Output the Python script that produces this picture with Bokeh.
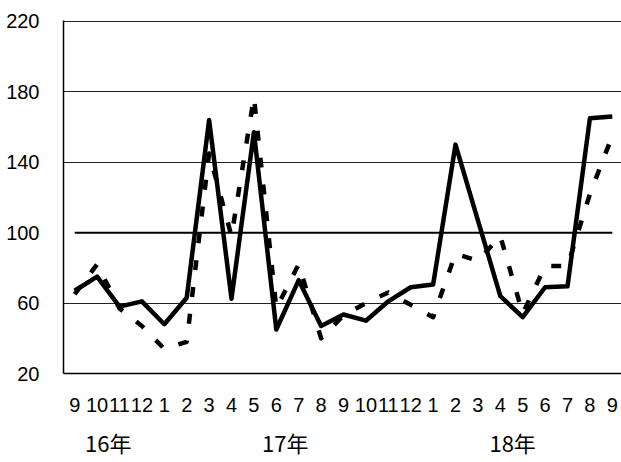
from bokeh.plotting import figure
from bokeh.models import FixedTicker, LinearAxis, Range1d
from bokeh.embed import file_html
from bokeh.resources import INLINE

# month tick labels (Sep 2016 .. Sep 2018)
months = ["9", "10", "11", "12", "1", "2", "3", "4", "5", "6", "7", "8",
          "9", "10", "11", "12", "1", "2", "3", "4", "5", "6", "7", "8", "9"]
# year group labels and their centre positions on the category axis
years = ["16年", "17年", "18年"]
year_pos = [1.5, 9.4, 19.55]

# solid series
solid = [67, 75, 58, 61, 48, 63, 164, 62.5, 157, 45, 73, 47, 53.5, 50, 61,
         69, 70.5, 150, 107, 64, 52, 69, 69.5, 165, 166]
# dashed series
dashed = [65, 82, 57, 47, 34, 38, 145, 98, 177, 57, 82, 40, 53, 60, 66,
          59, 52, 88, 84, 98, 54, 81, 81, 122, 155]
# reference level
base_level = 100

y_ticks = [20, 60, 100, 140, 180, 220]
grid_ticks = [60, 140, 180, 220]

x = list(range(len(months)))

p = figure(width=621, height=462, output_backend="svg", toolbar_location=None,
           x_range=Range1d(-0.5, 24.41), y_range=Range1d(20, 220.5),
           min_border_left=63, min_border_right=0, min_border_top=20,
           min_border_bottom=89)
p.outline_line_color = None
p.background_fill_color = "white"
p.border_fill_color = "white"

FONT = "Liberation Sans"

# x axis
p.xaxis.ticker = FixedTicker(ticks=x)
p.xaxis.major_label_overrides = {i: m for i, m in zip(x, months)}
p.xaxis.major_tick_line_color = None
p.xaxis.minor_tick_line_color = None
p.xaxis.axis_line_color = "black"
p.xaxis.axis_line_width = 1.5
p.xaxis.major_label_text_font = FONT
p.xaxis.major_label_text_font_size = "20px"
p.xaxis.major_label_text_color = "black"
p.xaxis.major_label_standoff = 18
p.xgrid.visible = False

# y axis
p.yaxis.ticker = FixedTicker(ticks=y_ticks)
p.yaxis.major_tick_line_color = None
p.yaxis.minor_tick_line_color = None
p.yaxis.axis_line_color = "black"
p.yaxis.axis_line_width = 1.5
p.yaxis.major_label_text_font = FONT
p.yaxis.major_label_text_font_size = "20px"
p.yaxis.major_label_text_color = "black"
p.yaxis.major_label_standoff = 18
p.ygrid.ticker = FixedTicker(ticks=grid_ticks)
p.ygrid.grid_line_color = "#222222"
p.ygrid.grid_line_width = 1

# year labels as a second category axis row
ax2 = LinearAxis(ticker=FixedTicker(ticks=year_pos),
                 major_label_overrides={pos: y for pos, y in zip(year_pos, years)})
ax2.axis_line_color = None
ax2.major_tick_line_color = None
ax2.minor_tick_line_color = None
ax2.major_label_text_font = "Noto Sans CJK JP"
ax2.major_label_text_font_size = "22px"
ax2.major_label_text_color = "black"
ax2.major_label_standoff = 5
p.add_layout(ax2, "below")

# series
p.line(x, [base_level] * len(x), line_color="black", line_width=2)
p.line(x, dashed, line_color="black", line_width=4.5, line_dash="10 17",
       line_cap="butt", line_join="round")
p.line(x, solid, line_color="black", line_width=4.5, line_join="round",
       line_cap="butt")

open("out.html", "w").write(file_html(p, INLINE))
